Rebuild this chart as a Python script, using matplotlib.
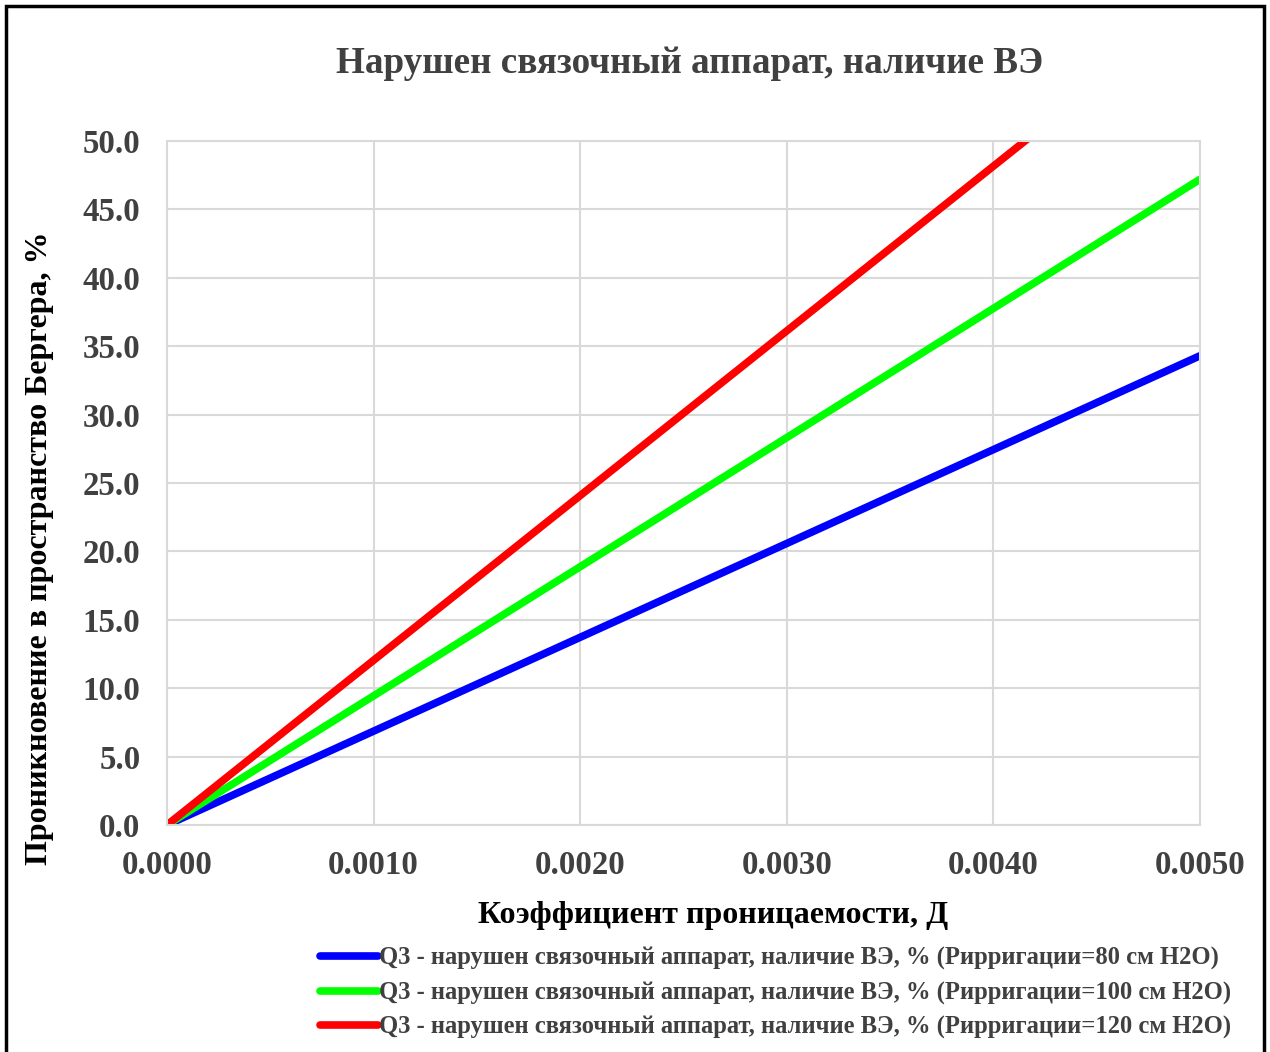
import matplotlib.pyplot as plt
from matplotlib.patches import Rectangle

# Coefficient of permeability, D (line endpoints)
perm = [0.0, 0.005]
q3_80 = [0.0, 34.3]
q3_100 = [0.0, 47.2]
q3_120 = [0.0, 60.2]

series = [
    (q3_80, '#0000ff', 'Q3 - нарушен связочный аппарат, наличие ВЭ, % (Рирригации=80 см H2O)'),
    (q3_100, '#00ff00', 'Q3 - нарушен связочный аппарат, наличие ВЭ, % (Рирригации=100 см H2O)'),
    (q3_120, '#ff0000', 'Q3 - нарушен связочный аппарат, наличие ВЭ, % (Рирригации=120 см H2O)'),
]

xticks = [0.0, 0.001, 0.002, 0.003, 0.004, 0.005]
yticks = [0, 5, 10, 15, 20, 25, 30, 35, 40, 45, 50]

plt.rcParams['font.family'] = ['Liberation Serif', 'DejaVu Serif']
plt.rcParams['font.weight'] = 'bold'

fig = plt.figure(figsize=(12.7, 10.52), dpi=100)
ax = fig.add_axes([0.1315, 0.2158, 0.8134, 0.6502])

for vals, col, lab in series:
    ax.plot(perm, vals, color=col, lw=5.5, label=lab, solid_capstyle='round', clip_on=True)

ax.set_xlim(0, 0.005)
ax.set_ylim(0, 50)
ax.set_xticks(xticks)
ax.set_xticklabels([f'{v:.4f}' for v in xticks])
ax.set_yticks(yticks)
ax.set_yticklabels([f'{v:.1f}' for v in yticks])
ax.tick_params(length=0, labelsize=23.7, colors='#404040')
ax.tick_params(axis='y', pad=19)
ax.tick_params(axis='x', pad=18)
ax.grid(True, color='#d9d9d9', lw=1.5)
ax.set_axisbelow(True)
for s in ax.spines.values():
    s.set_color('#d9d9d9')
    s.set_linewidth(1.5)

ax.set_xlabel('Коэффициент проницаемости, Д', fontsize=23, fontweight='bold')
ax.xaxis.set_label_coords(0.529, -0.111)
ax.set_ylabel('Проникновение в пространство Бергера, %', fontsize=23, fontweight='bold')
ax.yaxis.set_label_coords(-0.109, 0.404)
fig.text(0.543, 0.94, 'Нарушен связочный аппарат, наличие ВЭ', ha='center', va='center',
         fontsize=26.7, fontweight='bold', color='#404040')

leg = fig.legend(loc='upper left', bbox_to_anchor=(0.252, 0.0998), frameon=False,
                 fontsize=17.7, handlelength=2.35, handletextpad=0.05, labelspacing=0.45,
                 borderaxespad=0, borderpad=0)
for t in leg.get_texts():
    t.set_color('#404040')

fig.add_artist(Rectangle((0.005, -0.02), 0.99, 1.014, transform=fig.transFigure,
                         fill=False, edgecolor='black', lw=2.5))

fig.savefig('out.png', dpi=100)
